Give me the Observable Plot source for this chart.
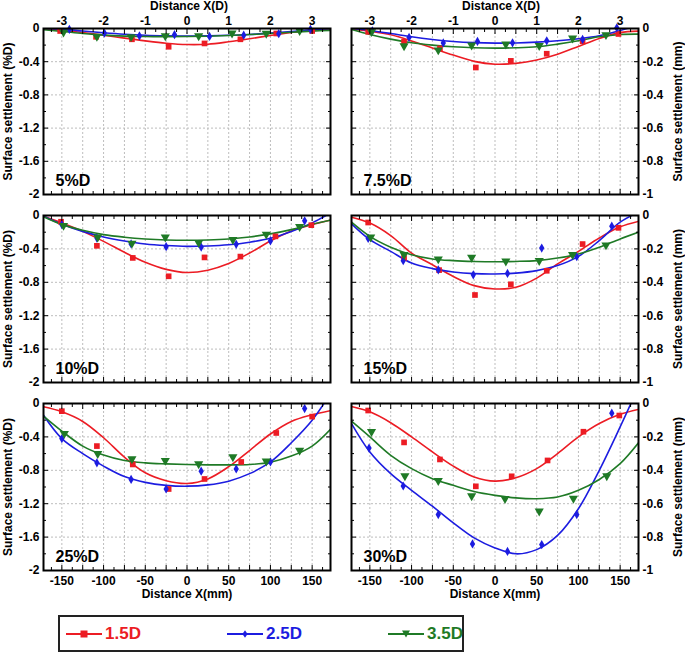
<!DOCTYPE html>
<html><head><meta charset="utf-8">
<script src="https://cdn.jsdelivr.net/npm/d3@7"></script>
<script src="https://cdn.jsdelivr.net/npm/@observablehq/plot@0.6"></script>
<style>
body{margin:0;background:#fff;}
#chart{position:relative;width:685px;height:653px;background:#fff;overflow:hidden;}
#chart svg.pnl{position:absolute;}
#legend{position:absolute;left:58px;top:615px;width:402px;height:33px;border:2px solid #222;background:#fff;}
.item{position:absolute;top:0;height:33px;display:flex;align-items:center;font:bold 17px "Liberation Sans Narrow","Arial Narrow",sans-serif;}
.item svg{margin-right:3px;}
</style></head><body><div id="chart"><div id="legend"></div></div>
<script>
// ---------- series ----------
const series = ["1.5D", "2.5D", "3.5D"];
const colors = ["#ec1c24", "#1c1ce0", "#1f7a26"];

// ---------- axes ----------
const D_MM = 50;
const xDomain = [-172, 172];
const xMajor = [-150,-125,-100,-75,-50,-25,0,25,50,75,100,125,150];
const xMinor = [-162.5,-137.5,-112.5,-87.5,-62.5,-37.5,-12.5,12.5,37.5,62.5,87.5,112.5,137.5,162.5];
const xTickBottom = [-150,-100,-50,0,50,100,150];
const xTickBottomLabels = ["-150","-100","-50","0","50","100","150"];
const xTickTopD = [-3,-2,-1,0,1,2,3];
const xTickTopLabels = ["-3","-2","-1","0","1","2","3"];
const yPctTicks = [0,-0.4,-0.8,-1.2,-1.6,-2];
const yPctLabels = ["0","-0.4","-0.8","-1.2","-1.6","-2"];
const yPctMinor = [-0.2,-0.6,-1.0,-1.4,-1.8];
const yMmTicks = [0,-0.2,-0.4,-0.6,-0.8,-1];
const yMmLabels = ["0","-0.2","-0.4","-0.6","-0.8","-1"];
const yMmMinor = [-0.1,-0.3,-0.5,-0.7,-0.9];

// x positions at which the fitted curves were read
const xCurve = [-172,-150,-125,-100,-75,-50,-25,0,25,50,75,100,125,150,172];

// ---------- 5%D (settlement in %D) ----------
const pts5_r = [[-152,-0.03],[-109,-0.10],[-66,-0.13],[-22,-0.22],[21,-0.18],[64,-0.13],[107,-0.06],[150,-0.03]];
const pts5_b = [[-141,-0.01],[-99,-0.055],[-57,-0.09],[-15,-0.075],[27,-0.095],[68,-0.08],[110,-0.062],[148,-0.01]];
const pts5_g = [[-148,-0.045],[-108,-0.095],[-67,-0.10],[-26,-0.09],[14,-0.09],[54,-0.056],[95,-0.06],[135,-0.026]];
const fit5_r = [-0.004,-0.024,-0.048,-0.08,-0.116,-0.149,-0.177,-0.193,-0.189,-0.16,-0.124,-0.084,-0.048,-0.02,-0.004];
const fit5_b = [0,-0.008,-0.03,-0.052,-0.07,-0.082,-0.088,-0.09,-0.088,-0.082,-0.072,-0.056,-0.036,-0.014,-0.002];
const fit5_g = [-0.015,-0.035,-0.06,-0.08,-0.092,-0.097,-0.098,-0.097,-0.093,-0.085,-0.073,-0.06,-0.045,-0.032,-0.022];

// ---------- 7.5%D (settlement in mm) ----------
const pts75_r = [[-152,-0.02],[-109,-0.08],[-66,-0.12],[-23,-0.235],[19,-0.195],[62,-0.152],[105,-0.077],[148,-0.033]];
const pts75_b = [[-147,-0.014],[-103,-0.054],[-62,-0.087],[-21,-0.078],[21,-0.086],[62,-0.074],[105,-0.066],[146,0.004]];
const pts75_g = [[-148,-0.02],[-109,-0.105],[-68,-0.13],[-28,-0.10],[13,-0.094],[53,-0.104],[93,-0.058],[133,-0.038]];
const fit75_r = [-0.002,-0.016,-0.038,-0.075,-0.118,-0.16,-0.198,-0.215,-0.21,-0.19,-0.155,-0.108,-0.06,-0.025,-0.016];
const fit75_b = [0,-0.012,-0.03,-0.05,-0.066,-0.078,-0.085,-0.088,-0.087,-0.082,-0.074,-0.062,-0.044,-0.012,0.02];
const fit75_g = [-0.006,-0.036,-0.064,-0.086,-0.10,-0.11,-0.116,-0.118,-0.116,-0.11,-0.094,-0.074,-0.05,-0.036,-0.034];

// ---------- 10%D (settlement in %D) ----------
const pts10_r = [[-151,-0.075],[-108,-0.363],[-65,-0.508],[-22,-0.728],[21,-0.502],[64,-0.492],[106,-0.25],[149,-0.116]];
const pts10_b = [[-150,-0.108],[-108,-0.27],[-67,-0.34],[-25,-0.373],[17,-0.378],[59,-0.345],[100,-0.305],[141,-0.064]];
const pts10_g = [[-148,-0.12],[-107,-0.26],[-66,-0.333],[-26,-0.26],[14,-0.325],[55,-0.29],[95,-0.225],[135,-0.133]];
const fit10_r = [-0.01,-0.09,-0.19,-0.31,-0.44,-0.56,-0.645,-0.683,-0.655,-0.575,-0.45,-0.305,-0.185,-0.11,-0.055];
const fit10_b = [-0.008,-0.104,-0.19,-0.257,-0.305,-0.341,-0.36,-0.37,-0.365,-0.35,-0.32,-0.273,-0.193,-0.088,0.03];
const fit10_g = [-0.016,-0.108,-0.177,-0.229,-0.26,-0.281,-0.293,-0.297,-0.293,-0.281,-0.257,-0.22,-0.169,-0.104,-0.056];

// ---------- 15%D (settlement in mm) ----------
const pts15_r = [[-152,-0.042],[-109,-0.255],[-67,-0.327],[-24,-0.476],[19,-0.412],[62,-0.331],[105,-0.171],[148,-0.074]];
const pts15_b = [[-152,-0.137],[-110,-0.271],[-68,-0.325],[-26,-0.355],[15,-0.347],[56,-0.195],[98,-0.247],[140,-0.064]];
const pts15_g = [[-149,-0.13],[-109,-0.235],[-68,-0.261],[-28,-0.251],[13,-0.273],[53,-0.271],[93,-0.235],[133,-0.177]];
const fit15_r = [-0.01,-0.045,-0.12,-0.225,-0.295,-0.365,-0.42,-0.44,-0.43,-0.375,-0.29,-0.215,-0.135,-0.068,-0.035];
const fit15_b = [-0.05,-0.145,-0.215,-0.285,-0.318,-0.338,-0.348,-0.35,-0.345,-0.33,-0.3,-0.245,-0.15,-0.04,0.02];
const fit15_g = [-0.04,-0.125,-0.19,-0.235,-0.26,-0.27,-0.275,-0.277,-0.275,-0.27,-0.255,-0.23,-0.19,-0.14,-0.1];

// ---------- 25%D (settlement in %D) ----------
const pts25_r = [[-150,-0.092],[-108,-0.51],[-65,-0.73],[-22,-1.024],[21,-0.904],[65,-0.7],[107,-0.353],[150,-0.157]];
const pts25_b = [[-150,-0.42],[-108,-0.71],[-67,-0.91],[-25,-1.024],[17,-0.81],[59,-0.783],[100,-0.7],[141,-0.06]];
const pts25_g = [[-147,-0.36],[-107,-0.6],[-66,-0.663],[-26,-0.683],[14,-0.723],[55,-0.639],[95,-0.69],[135,-0.562]];
const fit25_r = [-0.04,-0.1,-0.215,-0.41,-0.643,-0.83,-0.925,-0.958,-0.903,-0.757,-0.563,-0.365,-0.215,-0.135,-0.085];
const fit25_b = [-0.14,-0.42,-0.6,-0.75,-0.875,-0.945,-0.98,-0.99,-0.975,-0.93,-0.84,-0.7,-0.47,-0.2,0.12];
const fit25_g = [-0.15,-0.33,-0.51,-0.618,-0.683,-0.711,-0.723,-0.731,-0.735,-0.735,-0.731,-0.703,-0.63,-0.51,-0.309];

// ---------- 30%D (settlement in mm) ----------
const pts30_r = [[-152,-0.042],[-109,-0.233],[-66,-0.335],[-23,-0.496],[20,-0.436],[63,-0.341],[106,-0.169],[149,-0.072]];
const pts30_b = [[-151,-0.267],[-110,-0.494],[-68,-0.665],[-27,-0.841],[15,-0.886],[56,-0.845],[98,-0.665],[140,-0.058]];
const pts30_g = [[-148,-0.169],[-108,-0.434],[-68,-0.462],[-28,-0.554],[12,-0.57],[53,-0.645],[94,-0.568],[134,-0.434]];
const fit30_r = [-0.018,-0.05,-0.115,-0.2,-0.29,-0.375,-0.44,-0.465,-0.445,-0.39,-0.3,-0.2,-0.12,-0.065,-0.035];
const fit30_b = [-0.12,-0.29,-0.42,-0.52,-0.615,-0.715,-0.805,-0.865,-0.9,-0.875,-0.79,-0.63,-0.4,-0.14,0.1];
const fit30_g = [-0.106,-0.2,-0.31,-0.39,-0.45,-0.49,-0.527,-0.55,-0.565,-0.57,-0.56,-0.52,-0.455,-0.36,-0.235];

// ---------- build ----------
const chart = document.getElementById("chart");
const FONT = "'Liberation Sans', Arial, Helvetica, sans-serif";
const cols = [{left:0, width:343, mL:43, mR:13}, {left:343, width:342, mL:8, mR:47}];
const rows = [{top:0, h:205, mT:28, mB:11}, {top:205, h:190, mT:10, mB:13}, {top:395, h:212, mT:8, mB:37}];

const mapOf = (keys, labels) => { const m = new Map(keys.map((k,i)=>[k, labels[i]])); return d => m.has(d) ? m.get(d) : ""; };
const fmtBottom = mapOf(xTickBottom, xTickBottomLabels);
const fmtTop = mapOf(xTickTopD.map(d => d * D_MM), xTickTopLabels);
const blank = () => "";

function dotMarks(pts, k) {
  const opts = {x: d => d[0], y: d => d[1], fill: colors[k]};
  if (k === 0) return Plot.dot(pts, {...opts, symbol: "square", r: 3.2});
  if (k === 1) return Plot.dot(pts, {...opts, symbol: "diamond", r: 2.8});
  return Plot.dot(pts, {...opts, symbol: "triangle", r: 3.4, rotate: 180});
}

function panel({pts, fits, unit, col, row, label}) {
  const c = cols[col], r = rows[row];
  const pct = unit === "pct";
  const yTicks = pct ? yPctTicks : yMmTicks;
  const yMinor = pct ? yPctMinor : yMmMinor;
  const fmtY = mapOf(yTicks, pct ? yPctLabels : yMmLabels);
  const yGrid = yTicks.slice(1, -1);
  const marks = [
    Plot.gridX(xMajor, {stroke: "#bdbdbd", strokeOpacity: 1, strokeDasharray: "2,2"}),
    Plot.gridY(yGrid, {stroke: "#bdbdbd", strokeOpacity: 1, strokeDasharray: "2,2"}),
  ];
  fits.forEach((f, k) => {
    marks.push(Plot.line(xCurve.map((x, i) => ({x, y: f[i]})), {x: "x", y: "y", stroke: colors[k], strokeWidth: 1.6, curve: "catmull-rom", clip: true}));
  });
  pts.forEach((p, k) => marks.push(dotMarks(p, k)));
  // axes with inward ticks
  marks.push(
    Plot.axisX(xMajor, {anchor: "bottom", tickSize: -5, tickPadding: 11, tickFormat: row === 2 ? fmtBottom : blank, label: null}),
    Plot.axisX(xMinor, {anchor: "bottom", tickSize: -3, tickFormat: blank, label: null}),
    Plot.axisX(xMajor, {anchor: "top", tickSize: -5, tickPadding: 9, tickFormat: row === 0 ? fmtTop : blank, label: null}),
    Plot.axisX(xMinor, {anchor: "top", tickSize: -3, tickFormat: blank, label: null}),
    Plot.axisY(yTicks, {anchor: "left", tickSize: -5, tickPadding: 9, tickFormat: col === 0 ? fmtY : blank, label: null}),
    Plot.axisY(yMinor, {anchor: "left", tickSize: -3, tickFormat: blank, label: null}),
    Plot.axisY(yTicks, {anchor: "right", tickSize: -5, tickPadding: 9, tickFormat: col === 1 ? fmtY : blank, label: null}),
    Plot.axisY(yMinor, {anchor: "right", tickSize: -3, tickFormat: blank, label: null}),
    Plot.frame({stroke: "#000", strokeWidth: 2}),
    Plot.text([label], {text: d => d, frameAnchor: "bottom-left", textAnchor: "start", lineAnchor: "bottom", dx: 12, dy: -9, fontSize: 16, fontWeight: "bold"})
  );
  if (col === 0) marks.push(Plot.text(["Surface settlement (%D)"], {text: d => d, frameAnchor: "left", textAnchor: "middle", lineAnchor: "middle", dx: -35, rotate: -90, fontSize: 12, fontWeight: "bold"}));
  else marks.push(Plot.text(["Surface settlement (mm)"], {text: d => d, frameAnchor: "right", textAnchor: "middle", lineAnchor: "middle", dx: 40, rotate: -90, fontSize: 12, fontWeight: "bold"}));
  if (row === 0) marks.push(Plot.text(["Distance X(D)"], {text: d => d, frameAnchor: "top", textAnchor: "middle", lineAnchor: "bottom", dy: -19, dx: col === 1 ? 6 : 2, fontSize: 12, fontWeight: "bold"}));
  if (row === 2) marks.push(Plot.text(["Distance X(mm)"], {text: d => d, frameAnchor: "bottom", textAnchor: "middle", lineAnchor: "bottom", dy: 27, fontSize: 12, fontWeight: "bold"}));

  const svg = Plot.plot({
    width: c.width, height: r.h,
    marginLeft: c.mL, marginRight: c.mR, marginTop: r.mT, marginBottom: r.mB,
    x: {domain: xDomain},
    y: {domain: pct ? [-2, 0] : [-1, 0]},
    style: {fontFamily: FONT, fontSize: "12px", fontWeight: "bold", color: "#000", background: "transparent", overflow: "visible"},
    marks
  });
  svg.classList.add("pnl");
  svg.style.left = c.left + "px";
  svg.style.top = r.top + "px";
  svg.style.position = "absolute";
  chart.appendChild(svg);
}

panel({pts: [pts5_r, pts5_b, pts5_g], fits: [fit5_r, fit5_b, fit5_g], unit: "pct", col: 0, row: 0, label: "5%D"});
panel({pts: [pts75_r, pts75_b, pts75_g], fits: [fit75_r, fit75_b, fit75_g], unit: "mm", col: 1, row: 0, label: "7.5%D"});
panel({pts: [pts10_r, pts10_b, pts10_g], fits: [fit10_r, fit10_b, fit10_g], unit: "pct", col: 0, row: 1, label: "10%D"});
panel({pts: [pts15_r, pts15_b, pts15_g], fits: [fit15_r, fit15_b, fit15_g], unit: "mm", col: 1, row: 1, label: "15%D"});
panel({pts: [pts25_r, pts25_b, pts25_g], fits: [fit25_r, fit25_b, fit25_g], unit: "pct", col: 0, row: 2, label: "25%D"});
panel({pts: [pts30_r, pts30_b, pts30_g], fits: [fit30_r, fit30_b, fit30_g], unit: "mm", col: 1, row: 2, label: "30%D"});

// ---------- legend ----------
const legend = document.getElementById("legend");
const legendLeft = [6, 167, 328];
const swatchShape = [
  c => `<rect x="14.5" y="3.5" width="7" height="7" fill="${c}"/>`,
  c => `<path d="M18,3.2L20.6,7L18,10.8L15.4,7Z" fill="${c}"/>`,
  c => `<path d="M14,3.5L22,3.5L18,10.5Z" fill="${c}"/>`
];
series.forEach((s, k) => {
  const div = document.createElement("div");
  div.className = "item";
  div.style.left = legendLeft[k] + "px";
  div.style.color = colors[k];
  div.innerHTML = `<svg width="36" height="14"><line x1="0" x2="36" y1="7" y2="7" stroke="${colors[k]}" stroke-width="2"/>${swatchShape[k](colors[k])}</svg><span>${s}</span>`;
  legend.appendChild(div);
});
</script></body></html>
